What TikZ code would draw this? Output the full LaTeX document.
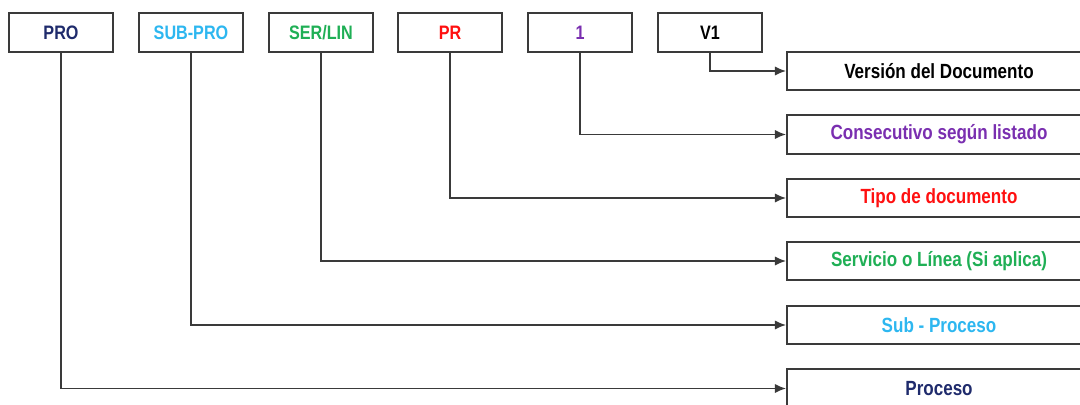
\documentclass[tikz,border=0pt]{standalone}
\usepackage{fontspec}
\newfontfamily\narrowsans[FakeStretch=0.83]{Liberation Sans}
\usetikzlibrary{arrows.meta}
\definecolor{linegray}{HTML}{3A3A3A}
\definecolor{cnavy}{HTML}{1F2B6C}
\definecolor{csky}{HTML}{2DB7F0}
\definecolor{cgreen}{HTML}{1FAF55}
\definecolor{cred}{HTML}{FF1010}
\definecolor{cpurple}{HTML}{7A2FB0}
\tikzset{
  codebox/.style={draw=linegray, line width=1.3pt, fill=white, inner sep=0pt,
    minimum width=78pt, minimum height=29pt,
    font=\narrowsans\bfseries\fontsize{14.6}{17}\selectfont},
  descbox/.style={draw=linegray, line width=1.3pt, fill=white, inner sep=0pt,
    minimum width=228pt, minimum height=29pt,
    font=\narrowsans\bfseries\fontsize{15.4}{18}\selectfont},
  conn/.style={draw=linegray, line width=1.25pt, -{Latex[length=8.5pt,width=7pt]}}
}
\begin{document}
\begin{tikzpicture}[x=0.75pt,y=-0.75pt]
\useasboundingbox (0,0) rectangle (1080,404);
\clip (0,0) rectangle (1080,404);

% code segments along the top
\node[codebox, text=cnavy]   (pro)  at (61,32.5)  {PRO};
\node[codebox, text=csky]    (sub)  at (191,32.5) {SUB-PRO};
\node[codebox, text=cgreen]  (ser)  at (321,32.5) {SER/LIN};
\node[codebox, text=cred]    (pr)   at (450,32.5) {PR};
\node[codebox, text=cpurple] (num)  at (580,32.5) {1};
\node[codebox, text=black]   (ver)  at (710,32.5) {V1};

% meaning of each segment
\node[descbox, text=black]   (dver) at (939,71)    {Versión del Documento};
\node[descbox, text=cpurple] (dnum) at (939,134.5) {Consecutivo según listado};
\node[descbox, text=cred]    (dpr)  at (939,198)   {Tipo de documento};
\node[descbox, text=cgreen]  (dser) at (939,261)   {Servicio o Línea (Si aplica)};
\node[descbox, text=csky]    (dsub) at (939,325)   {Sub - Proceso};
\node[descbox, text=cnavy]   (dpro) at (939,388.5) {Proceso};

% connectors
\draw[conn] (ver.south) |- (dver.west);
\draw[conn] (num.south) |- (dnum.west);
\draw[conn] (pr.south)  |- (dpr.west);
\draw[conn] (ser.south) |- (dser.west);
\draw[conn] (sub.south) |- (dsub.west);
\draw[conn] (pro.south) |- (dpro.west);
\end{tikzpicture}
\end{document}
